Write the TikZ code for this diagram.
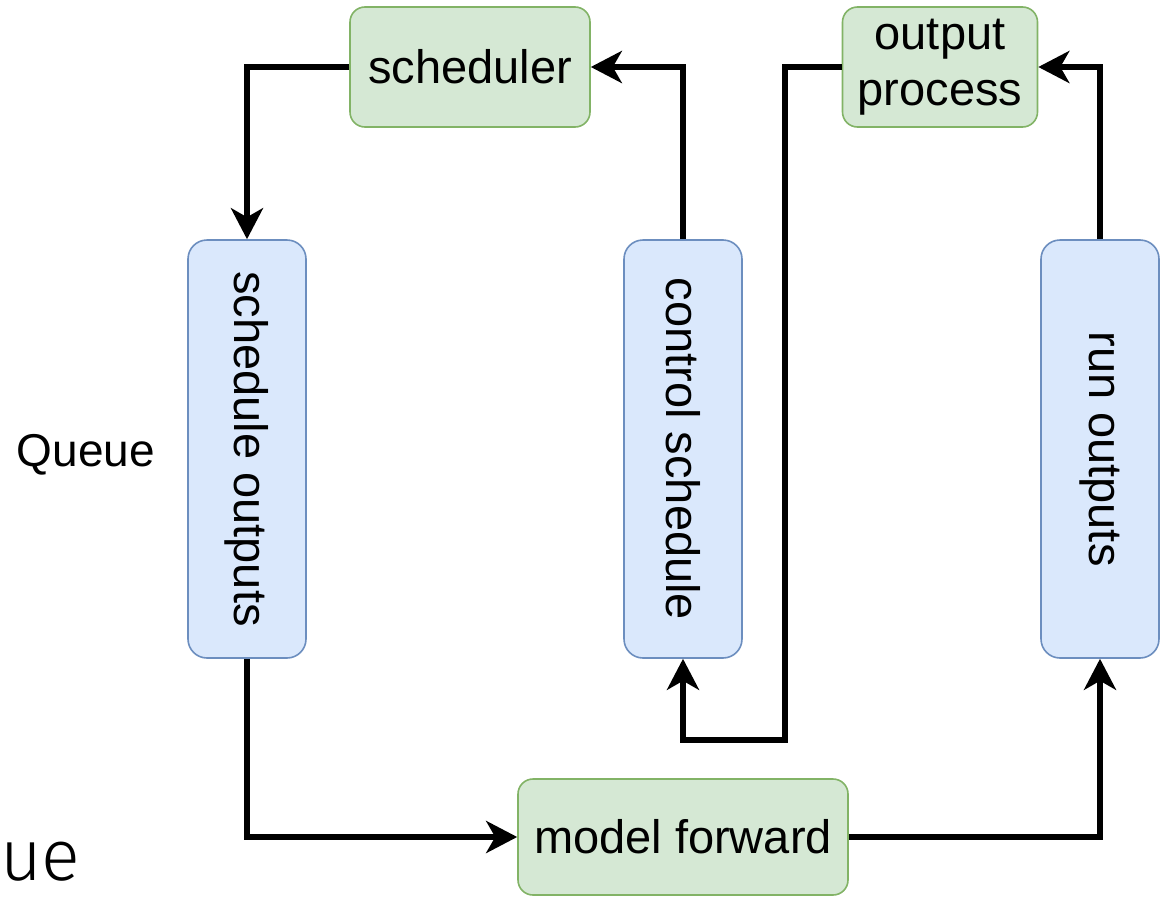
\documentclass[tikz,border=0pt]{standalone}
\usepackage{fontspec}
\setmainfont{Liberation Sans}
\newfontfamily\thinfont{Fira Sans Light}
\usetikzlibrary{arrows.meta,positioning}

\definecolor{greenfill}{HTML}{D5E8D4}
\definecolor{greenline}{HTML}{82B366}
\definecolor{bluefill}{HTML}{DAE8FC}
\definecolor{blueline}{HTML}{6C8EBF}

\tikzset{
  boxtext/.style={font=\fontsize{47}{55}\selectfont, inner sep=0pt, align=center},
  greenbox/.style={boxtext, draw=greenline, fill=greenfill, line width=1.6pt, rounded corners=15pt},
  bluebox/.style={boxtext, draw=blueline, fill=bluefill, line width=1.6pt, rounded corners=19pt,
                  minimum width=118pt, minimum height=418pt},
  flow/.style={line width=5.8pt, line join=miter,
               -{Stealth[length=31pt, width=32pt, inset=9pt]}},
}

\begin{document}
\begin{tikzpicture}[x=1pt, y=-1pt]
  \useasboundingbox (0,0) rectangle (1175,897);

  % top row
  \node[greenbox, minimum width=240pt, minimum height=120pt] (sched) at (470,67) {scheduler};
  \node[greenbox, minimum width=195pt, minimum height=120pt] (outp) at (940,67) {output\\[1pt]process};

  % vertical stages
  \node[bluebox] (so) at (247,449) {\rotatebox{-90}{schedule outputs}};
  \node[bluebox] (cs) at (683,449) {\rotatebox{-90}{control schedule}};
  \node[bluebox] (ro) at (1100,449) {\rotatebox{-90}{run outputs}};

  % bottom
  \node[greenbox, minimum width=330pt, minimum height=116pt] (mf) at (683,837) {model forward};

  % labels
  \node[anchor=base east, inner sep=0pt, font=\fontsize{46}{50}\selectfont] (q) at (155,466) {Queue};
  \node[anchor=base west, inner sep=0pt, font=\thinfont\fontsize{72}{80}\selectfont] (ue) at (0,880) {ue};

  % loop
  \coordinate (k1) at (785,740);
  \draw[flow] (sched.west) -| (so.north);
  \draw[flow] (so.south) |- (mf.west);
  \draw[flow] (mf.east) -| (ro.south);
  \draw[flow] (ro.north) |- (outp.east);
  \draw[flow] (outp.west) -| (k1) -| (cs.south);
  \draw[flow] (cs.north) |- (sched.east);
\end{tikzpicture}
\end{document}
